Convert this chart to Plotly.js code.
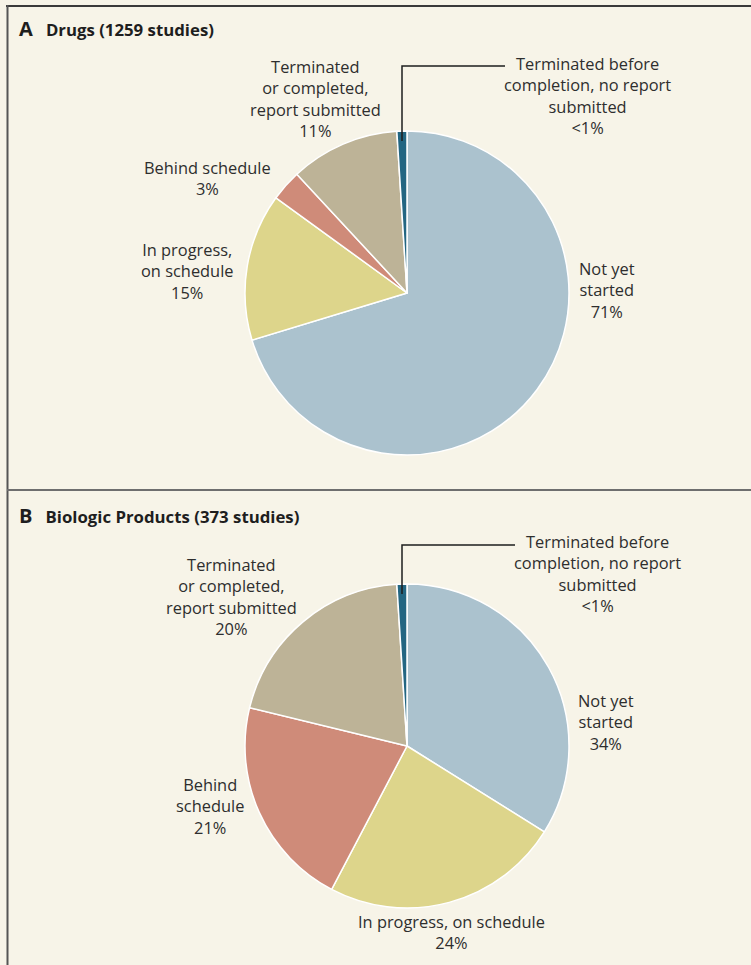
<!DOCTYPE html>
<html>
<head>
<meta charset="utf-8">
<script src="https://cdn.plot.ly/plotly-3.0.1.min.js"></script>
<style>
  html, body { margin: 0; padding: 0; background: #f7f4e8; }
  #chart { width: 751px; height: 965px; }
</style>
</head>
<body>
<div id="chart"></div>
<script>
// ---- Data ----
const categories = [
  "Not yet started",
  "In progress, on schedule",
  "Behind schedule",
  "Terminated or completed, report submitted",
  "Terminated before completion, no report submitted"
];
const drugsValues = [70.3, 14.7, 3.1, 10.9, 1.0];
const biologicValues = [33.9, 23.8, 21.1, 20.2, 1.0];
const drugsPctLabels = ["71%", "15%", "3%", "11%", "<1%"];
const biologicPctLabels = ["34%", "24%", "21%", "20%", "<1%"];
const drugsLabelText = [
  "Not yet<br>started",
  "In progress,<br>on schedule",
  "Behind schedule",
  "Terminated<br>or completed,<br>report submitted",
  "Terminated before<br>completion, no report<br>submitted"
];
const biologicLabelText = [
  "Not yet<br>started",
  "In progress, on schedule",
  "Behind<br>schedule",
  "Terminated<br>or completed,<br>report submitted",
  "Terminated before<br>completion, no report<br>submitted"
];
const panelTitles = ["Drugs (1259 studies)", "Biologic Products (373 studies)"];
const panelLetters = ["A", "B"];
const sliceColors = ["#abc2ce", "#ddd58b", "#cf8b79", "#bdb397", "#236682"];

// ---- Layout helpers ----
const W = 751, H = 965;
const px = x => x / W;
const py = y => 1 - y / H;
const FONT = "'Open Sans', Lato, sans-serif";
const TXT = "#2e2e2e";

function pieTrace(values, cx, cy, r) {
  return {
    type: "pie",
    labels: categories,
    values: values,
    sort: false,
    direction: "clockwise",
    rotation: 0,
    textinfo: "none",
    hoverinfo: "label+percent",
    marker: { colors: sliceColors, line: { color: "#ffffff", width: 1.5 } },
    domain: { x: [px(cx - r), px(cx + r)], y: [py(cy + r), py(cy - r)] },
    showlegend: false
  };
}

// label centres (pixels) for each slice
const drugsLabelPos = [[607, 290], [187, 271], [207, 178], [315, 98], [587, 96]];
const biologicLabelPos = [[606, 722], [451, 932], [210, 806], [232, 596], [597, 573]];

const annotations = [];
function addLabels(texts, pcts, pos) {
  texts.forEach((t, i) => {
    annotations.push({
      xref: "paper", yref: "paper",
      x: px(pos[i][0]), y: py(pos[i][1]),
      xanchor: "center", yanchor: "middle",
      text: t + "<br>" + pcts[i],
      showarrow: false, align: "center",
      font: { family: FONT, size: 16.4, color: TXT }
    });
  });
}
addLabels(drugsLabelText, drugsPctLabels, drugsLabelPos);
addLabels(biologicLabelText, biologicPctLabels, biologicLabelPos);

const titleY = [29, 515];
panelTitles.forEach((t, i) => {
  annotations.push({
    xref: "paper", yref: "paper",
    x: px(17), y: py(titleY[i]),
    xanchor: "left", yanchor: "middle",
    text: "<b><span style='font-size:20px'>" + panelLetters[i] + "</span>   " + t + "</b>",
    showarrow: false,
    font: { family: FONT, size: 16.8, color: "#1e1e1e" }
  });
});

const shapes = [
  // outer frame
  { type: "line", xref: "paper", yref: "paper", x0: px(6), x1: 1, y0: py(6), y1: py(6), line: { color: "#3a3a3a", width: 2 } },
  { type: "line", xref: "paper", yref: "paper", x0: px(7.5), x1: px(7.5), y0: py(5), y1: 0, line: { color: "#555555", width: 2 } },
  // divider
  { type: "line", xref: "paper", yref: "paper", x0: px(7), x1: 1, y0: py(490), y1: py(490), line: { color: "#6e6e6e", width: 2 } },
  // leader A
  { type: "path", xref: "paper", yref: "paper",
    path: `M ${px(402)} ${py(141)} L ${px(402)} ${py(66)} L ${px(505)} ${py(66)}`,
    line: { color: "#1e1e1e", width: 1.5 } },
  // leader B
  { type: "path", xref: "paper", yref: "paper",
    path: `M ${px(402)} ${py(594)} L ${px(402)} ${py(545)} L ${px(515)} ${py(545)}`,
    line: { color: "#1e1e1e", width: 1.5 } }
];

const data = [
  pieTrace(drugsValues, 407, 293, 162),
  pieTrace(biologicValues, 407, 746, 162)
];

const layout = {
  width: W, height: H,
  margin: { l: 0, r: 0, t: 0, b: 0 },
  paper_bgcolor: "#f7f4e8",
  plot_bgcolor: "#f7f4e8",
  showlegend: false,
  annotations: annotations,
  shapes: shapes,
  font: { family: FONT, color: TXT }
};

Plotly.newPlot("chart", data, layout, { displayModeBar: false, staticPlot: true });
</script>
</body>
</html>
